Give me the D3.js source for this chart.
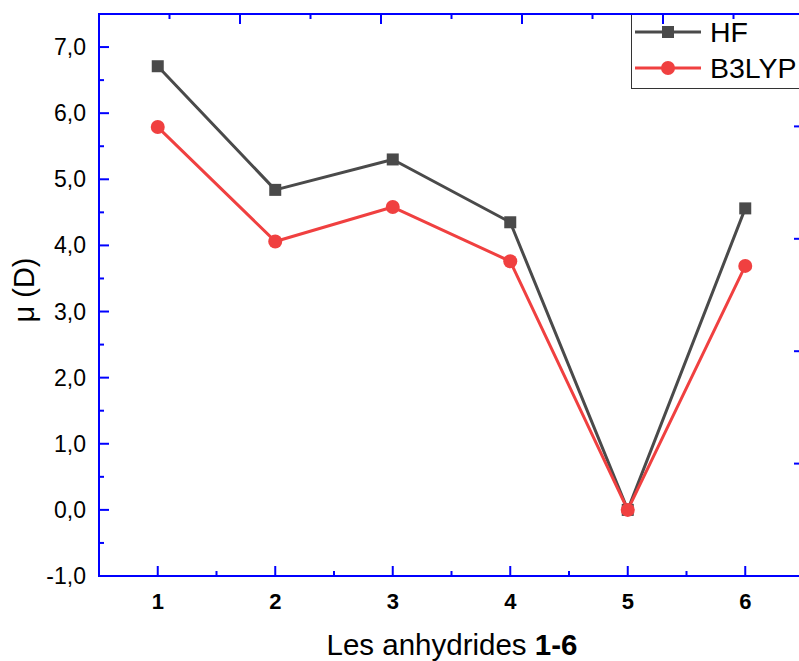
<!DOCTYPE html>
<html><head><meta charset="utf-8">
<script src="https://cdn.jsdelivr.net/npm/d3@7/dist/d3.min.js"></script>
<style>body{margin:0;background:#fff}svg{display:block}</style>
</head><body>
<svg id="chart" width="799" height="661"></svg>
<script>
const categories = [1, 2, 3, 4, 5, 6];
const hfValues = [6.71, 4.84, 5.30, 4.35, 0.0, 4.56];
const b3lypValues = [5.79, 4.06, 4.58, 3.76, 0.0, 3.69];
const yTickValues = [-1, 0, 1, 2, 3, 4, 5, 6, 7];
const yTickLabels = ["-1,0", "0,0", "1,0", "2,0", "3,0", "4,0", "5,0", "6,0", "7,0"];
const seriesNames = ["HF", "B3LYP"];
const seriesColors = ["#4a4a4a", "#f04040"];

const FONT = "Liberation Sans, Arial, sans-serif";
const svg = d3.select("#chart");
const L = 99, R = 804, T = 14, B = 576;
const x = d3.scaleLinear().domain([0.5, 6.5]).range([L, R]);
const y = d3.scaleLinear().domain([-1, 7.5]).range([B, T]);
const axisColor = "#0000ff";

// Left axis
const gl = svg.append("g");
gl.append("line").attr("x1", L).attr("x2", L).attr("y1", T - 1).attr("y2", B + 1).attr("stroke", axisColor).attr("stroke-width", 2);
d3.range(-1, 7.51, 0.5).forEach(v => {
  const major = Math.abs(v - Math.round(v)) < 1e-9;
  gl.append("line").attr("x1", L).attr("x2", L + (major ? 10 : 5)).attr("y1", y(v)).attr("y2", y(v)).attr("stroke", axisColor).attr("stroke-width", 2);
});
yTickValues.forEach((v, i) => {
  gl.append("text").attr("x", 86).attr("y", y(v)).attr("dy", "0.35em").attr("text-anchor", "end")
    .attr("font-family", FONT).attr("font-size", 23).attr("fill", "#000").text(yTickLabels[i]);
});

// Bottom axis
const gb = svg.append("g");
gb.append("line").attr("x1", L - 1).attr("x2", R).attr("y1", B).attr("y2", B).attr("stroke", axisColor).attr("stroke-width", 2);
d3.range(1, 6.51, 0.5).forEach(v => {
  const major = Math.abs(v - Math.round(v)) < 1e-9;
  gb.append("line").attr("x1", x(v)).attr("x2", x(v)).attr("y1", B).attr("y2", B - (major ? 10 : 5)).attr("stroke", axisColor).attr("stroke-width", 2);
});
categories.forEach(c => {
  gb.append("text").attr("x", x(c)).attr("y", 601).attr("dy", "0.35em").attr("text-anchor", "middle")
    .attr("font-family", FONT).attr("font-size", 22).attr("font-weight", "bold").attr("fill", "#000").text(c);
});

// Top axis (secondary)
const xTop = d3.scaleLinear().domain([0, 5]).range([L, R]);
svg.append("line").attr("x1", L - 1).attr("x2", R).attr("y1", T).attr("y2", T).attr("stroke", axisColor).attr("stroke-width", 2);
d3.range(0.5, 5.01, 0.5).forEach(v => {
  const major = Math.abs(v - Math.round(v)) < 1e-9;
  svg.append("line").attr("x1", xTop(v)).attr("x2", xTop(v)).attr("y1", T).attr("y2", T + (major ? 10 : 5)).attr("stroke", axisColor).attr("stroke-width", 2);
});

// Right axis (secondary)
const yRight = d3.scaleLinear().domain([0, 5]).range([B, T]);
svg.append("line").attr("x1", R).attr("x2", R).attr("y1", T).attr("y2", B).attr("stroke", axisColor).attr("stroke-width", 2);
d3.range(0.5, 5.01, 0.5).forEach(v => {
  const major = Math.abs(v - Math.round(v)) < 1e-9;
  svg.append("line").attr("x1", R).attr("x2", R - (major ? 10 : 5)).attr("y1", yRight(v)).attr("y2", yRight(v)).attr("stroke", axisColor).attr("stroke-width", 2);
});

// Axis titles
svg.append("text").attr("x", 452).attr("y", 655).attr("text-anchor", "middle")
  .attr("font-family", FONT).attr("font-size", 29.5).attr("fill", "#000")
  .html('Les anhydrides <tspan font-weight="bold">1-6</tspan>');
svg.append("text").attr("transform", "translate(34,290) rotate(-90)").attr("text-anchor", "middle")
  .attr("font-family", FONT).attr("font-size", 29).attr("fill", "#000").text("μ (D)");

// Series
const line = d3.line().x((d, i) => x(categories[i])).y(d => y(d));
const series = [hfValues, b3lypValues];
series.forEach((vals, s) => {
  svg.append("path").datum(vals).attr("d", line).attr("fill", "none").attr("stroke", seriesColors[s]).attr("stroke-width", 3).attr("stroke-linejoin", "round");
});
svg.selectAll(".sq").data(hfValues).enter().append("rect")
  .attr("x", (d, i) => x(categories[i]) - 6).attr("y", d => y(d) - 6).attr("width", 12).attr("height", 12).attr("fill", seriesColors[0]);
svg.selectAll(".ci").data(b3lypValues).enter().append("circle")
  .attr("cx", (d, i) => x(categories[i])).attr("cy", d => y(d)).attr("r", 7).attr("fill", seriesColors[1]);

// Legend
const lg = svg.append("g");
lg.append("rect").attr("x", 631.5).attr("y", 14).attr("width", 200).attr("height", 74.5).attr("fill", "#fff").attr("stroke", "#333").attr("stroke-width", 1);
lg.append("line").attr("x1", 631).attr("x2", R).attr("y1", T).attr("y2", T).attr("stroke", axisColor).attr("stroke-width", 2);
d3.range(0.5, 5.01, 0.5).filter(v => xTop(v) > 631).forEach(v => {
  const major = Math.abs(v - Math.round(v)) < 1e-9;
  lg.append("line").attr("x1", xTop(v)).attr("x2", xTop(v)).attr("y1", T).attr("y2", T + (major ? 10 : 5)).attr("stroke", axisColor).attr("stroke-width", 2);
});
const legY = [32, 68];
seriesNames.forEach((name, s) => {
  lg.append("line").attr("x1", 635).attr("x2", 701).attr("y1", legY[s]).attr("y2", legY[s]).attr("stroke", seriesColors[s]).attr("stroke-width", 3);
  if (s === 0) lg.append("rect").attr("x", 662).attr("y", legY[s] - 6).attr("width", 12).attr("height", 12).attr("fill", seriesColors[s]);
  else lg.append("circle").attr("cx", 668).attr("cy", legY[s]).attr("r", 7).attr("fill", seriesColors[s]);
  lg.append("text").attr("x", 710).attr("y", legY[s]).attr("dy", "0.35em")
    .attr("font-family", FONT).attr("font-size", 28.5).attr("fill", "#000").text(name);
});
</script>
</body></html>
